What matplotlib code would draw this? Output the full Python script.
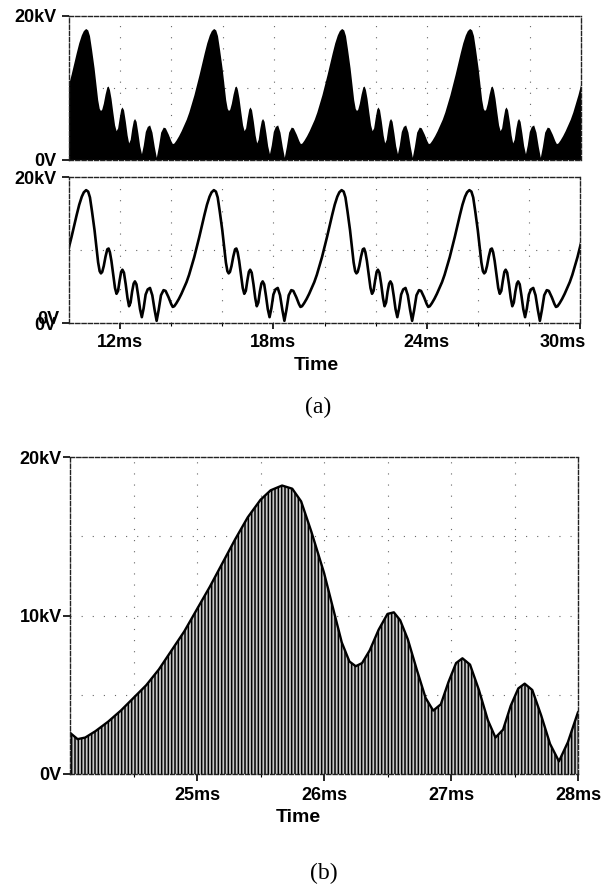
import matplotlib
matplotlib.use('Agg')
import matplotlib.pyplot as plt
import matplotlib.transforms as mtransforms
import numpy as np

plt.rcParams['font.family'] = ['Liberation Sans', 'DejaVu Sans']
plt.rcParams['font.weight'] = 'bold'
plt.rcParams['hatch.linewidth'] = 1.1

# one period (5 ms) of the output voltage envelope (b)
# time in ms, voltage in kV
env_t = [24.06, 24.12, 24.20, 24.30, 24.40, 24.50, 24.60, 24.70, 24.80, 24.90,
         25.00, 25.10, 25.20, 25.30, 25.40, 25.50, 25.58, 25.67, 25.75, 25.82,
         25.90, 26.00, 26.08, 26.14, 26.20, 26.25, 26.30, 26.36, 26.43, 26.50,
         26.55, 26.60, 26.66, 26.73, 26.80, 26.86, 26.92, 26.98, 27.04, 27.09,
         27.15, 27.22, 27.29, 27.35, 27.41, 27.47, 27.53, 27.58, 27.64, 27.71,
         27.78, 27.85, 27.92, 28.00, 28.08, 28.17, 28.26, 28.35, 28.43, 28.51,
         28.60, 28.70, 28.78, 28.90, 29.00]
env_kv = [2.2, 2.3, 2.7, 3.3, 4.0, 4.8, 5.6, 6.6, 7.8, 9.0,
          10.4, 11.8, 13.3, 14.8, 16.2, 17.3, 17.9, 18.2, 18.0, 17.2,
          15.3, 12.7, 10.2, 8.3, 7.1, 6.8, 7.0, 7.8, 9.1, 10.1,
          10.2, 9.7, 8.5, 6.6, 4.8, 4.0, 4.4, 5.8, 7.0, 7.3,
          6.9, 5.3, 3.4, 2.3, 2.8, 4.3, 5.4, 5.7, 5.3, 3.7,
          1.9, 0.8, 2.0, 3.9, 4.6, 4.8, 3.8, 1.8, 0.3, 1.8,
          3.8, 4.5, 4.4, 3.5, 2.6]

# the waveform repeats every 5 ms; these shifts cover each time window
shifts_a = [-15, -10, -5, 0, 5]
shifts_b = [-5, 0, 5]

t_a = np.concatenate([np.array(env_t) + s for s in shifts_a])
v_a = np.tile(env_kv, len(shifts_a))
t_b = np.concatenate([np.array(env_t) + s for s in shifts_b])
v_b = np.tile(env_kv, len(shifts_b))

fig = plt.figure(figsize=(6.02, 8.85), dpi=100)
W, H = 602.0, 885.0


def box(left, right, top, bottom):
    return [left / W, 1 - bottom / H, (right - left) / W, (bottom - top) / H]


ax1 = fig.add_axes(box(69, 581, 16, 160))
ax2 = fig.add_axes(box(69, 580, 177, 323))
ax3 = fig.add_axes(box(70, 578, 457, 774))

grid_kw = dict(color='#666666', linestyle=(0, (1, 9)), linewidth=0.8)


def style(ax):
    for s in ax.spines.values():
        s.set_linestyle((0, (3, 1.5)))
        s.set_color('#222222')
        s.set_linewidth(1.0)
        s.set_zorder(5)
    ax.set_axisbelow(True)
    ax.tick_params(which='major', direction='out', length=5, width=1.2,
                   labelsize=13, colors='black')
    ax.tick_params(which='minor', direction='out', length=2.5, width=0.8)
    ax.tick_params(axis='y', which='minor', length=0)


# (a) top: filled waveform
ax1.fill_between(t_a, 0, v_a, color='black', linewidth=0, zorder=2)
ax1.set_xlim(10, 30)
ax1.set_ylim(0, 20)
ax1.set_yticks([0, 20])
ax1.set_yticklabels(['0V', '20kV'])
ax1.set_yticks([10], minor=True)
ax1.set_xticks([])
ax1.set_xticks(np.arange(12, 30, 2), minor=True)
style(ax1)
ax1.tick_params(axis='x', which='both', length=0, labelbottom=False)
ax1.tick_params(axis='y', pad=4)
ax1.grid(which='minor', **grid_kw)

# (a) bottom: envelope
ax2.plot(t_a, v_a, color='black', linewidth=1.9, zorder=3)
ax2.set_xlim(10, 30)
ax2.set_ylim(0, 20)
ax2.set_yticks([0, 20])
ax2.set_yticklabels(['0V', '20kV'])
ax2.set_yticks([10], minor=True)
ax2.set_xticks([12, 18, 24, 30])
ax2.set_xticklabels(['12ms', '18ms', '24ms', '30ms'])
ax2.set_xticks(np.arange(12, 30, 2), minor=True)
style(ax2)
ax2.tick_params(axis='y', pad=4)
ax2.tick_params(axis='x', pad=4, length=4)
ax2.grid(which='minor', **grid_kw)
ax2.grid(which='major', axis='x', **grid_kw)
last = ax2.get_xticklabels()[-1]
last.set_horizontalalignment('right')
last.set_transform(last.get_transform() +
                   mtransforms.ScaledTranslation(6 / 100, 0, fig.dpi_scale_trans))
# doubled "0V" from the scan
ghost = mtransforms.blended_transform_factory(ax2.transAxes, ax2.transData) + \
    mtransforms.ScaledTranslation(-10 / 100, 3 / 100, fig.dpi_scale_trans)
ax2.text(0, 0, '0V', transform=ghost, ha='right', va='center', fontsize=13,
         fontweight='bold')

# (b) zoomed waveform
ax3.fill_between(t_b, 0, v_b, facecolor='#c8c8c8', edgecolor='black',
                 hatch='|||||', linewidth=0, zorder=2)
ax3.plot(t_b, v_b, color='black', linewidth=1.7, zorder=3)
ax3.set_xlim(24, 28)
ax3.set_ylim(0, 20)
ax3.set_yticks([0, 10, 20])
ax3.set_yticklabels(['0V', '10kV', '20kV'])
ax3.set_yticks([5, 15], minor=True)
ax3.set_xticks([25, 26, 27, 28])
ax3.set_xticklabels(['25ms', '26ms', '27ms', '28ms'])
ax3.set_xticks(np.arange(24.5, 28, 0.5), minor=True)
style(ax3)
ax3.tick_params(axis='y', pad=1)
ax3.tick_params(axis='x', pad=4, length=5)
ax3.grid(which='minor', **grid_kw)
ax3.grid(which='major', **grid_kw)

fig.text(316 / W, 1 - 365 / H, 'Time', ha='center', va='center', fontsize=14,
         fontweight='bold')
fig.text(318 / W, 1 - 407 / H, '(a)', ha='center', va='center', fontsize=17,
         fontweight='normal', family='Liberation Serif')
fig.text(298 / W, 1 - 817 / H, 'Time', ha='center', va='center', fontsize=14,
         fontweight='bold')
fig.text(324 / W, 1 - 873 / H, '(b)', ha='center', va='center', fontsize=17,
         fontweight='normal', family='Liberation Serif')

fig.savefig('out.png', dpi=100)
